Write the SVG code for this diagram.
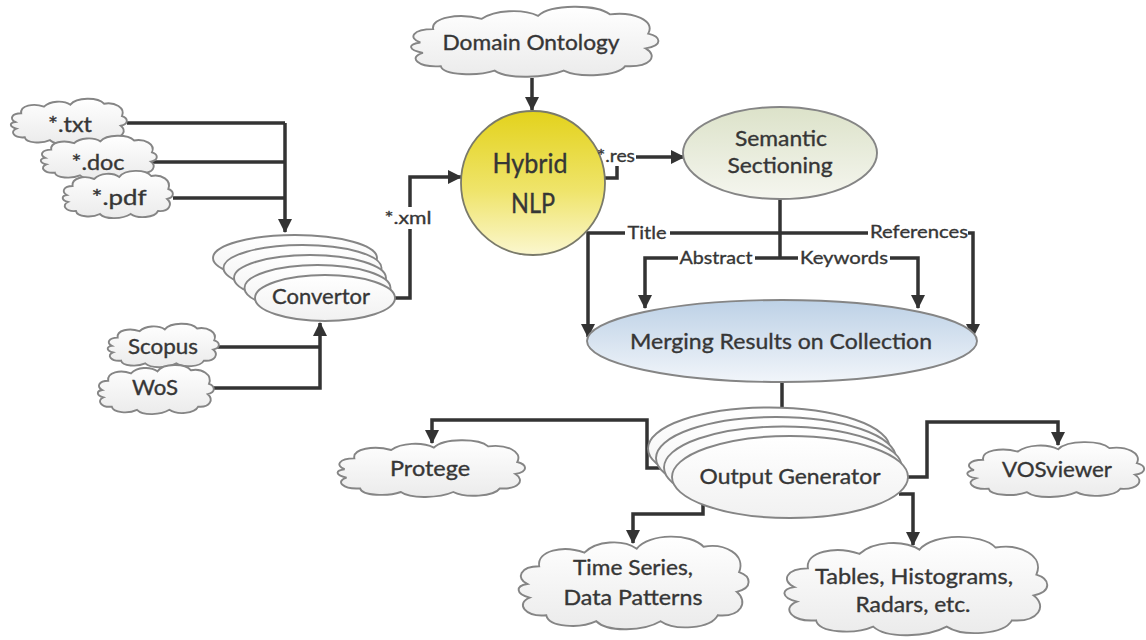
<svg xmlns="http://www.w3.org/2000/svg" xmlns:xlink="http://www.w3.org/1999/xlink" width="1146" height="640" viewBox="0 0 1146 640">
<style>
text{font-family:Lato,"Open Sans","Liberation Sans",sans-serif;fill:#363636;stroke:#363636;stroke-width:0.35;text-anchor:middle;}
.n{font-size:21px;}
.l{font-size:18px;}
.big{font-size:27px;}
.shape{stroke:#858585;stroke-width:1.9;}
.cl{fill:url(#gCloud);stroke:#858585;stroke-width:1.9;}
.c{fill:none;stroke:#333;stroke-width:3.5;}
.a{marker-end:url(#arr);}
</style>
<defs>
<linearGradient id="gCloud" x1="0" y1="0" x2="0" y2="1"><stop offset="0" stop-color="#ffffff"/><stop offset="1" stop-color="#ebebeb"/></linearGradient>
<linearGradient id="gEl" x1="0" y1="0" x2="0" y2="1"><stop offset="0" stop-color="#ffffff"/><stop offset="1" stop-color="#f1f1f1"/></linearGradient>
<linearGradient id="gY" x1="0" y1="0" x2="0" y2="1"><stop offset="0" stop-color="#e3d21c"/><stop offset="0.55" stop-color="#efe46a"/><stop offset="1" stop-color="#fbf7cf"/></linearGradient>
<linearGradient id="gS" x1="0" y1="0" x2="0" y2="1"><stop offset="0" stop-color="#dce2c9"/><stop offset="1" stop-color="#f5f6ef"/></linearGradient>
<linearGradient id="gB" x1="0" y1="0" x2="0" y2="1"><stop offset="0" stop-color="#bdd1e6"/><stop offset="1" stop-color="#f1f5fa"/></linearGradient>
<symbol id="cloud" viewBox="0 0 200 100" preserveAspectRatio="none" overflow="visible">
<path class="cl" vector-effect="non-scaling-stroke" d="M12,52 C2,46 6,34 22,34 C20,18 42,12 60,20 C70,8 92,6 104,16 C114,0 150,0 160,14 C178,10 196,22 190,40 C200,44 202,56 188,60 C198,70 192,86 172,84 C166,98 136,100 124,90 C110,100 80,102 70,90 C56,98 30,96 28,84 C10,86 2,72 14,66 C2,62 2,54 12,52 Z"/>
</symbol>
<marker id="arr" markerUnits="userSpaceOnUse" markerWidth="14" markerHeight="14" viewBox="0 0 14 14" refX="13" refY="7" orient="auto">
<path d="M0,0 L14,7 L0,14 Z" fill="#333"/>
</marker>
</defs>
<rect width="1146" height="640" fill="#fff"/>

<g id="connectors">
<path class="c a" d="M532,78 V110"/>
<path class="c" d="M127,123 H285"/>
<path class="c" d="M147,162 H285"/>
<path class="c" d="M173,198 H285"/>
<path class="c a" d="M285,123 V232"/>
<path class="c" d="M213,347 H320"/>
<path class="c a" d="M205,388 H320 V323"/>
<path class="c" d="M394,298 H410 V229"/>
<path class="c a" d="M410,207 V177 H461"/>
<path class="c" d="M604,178 H617 V166"/>
<path class="c a" d="M636,157 H684"/>
<path class="c" d="M780,199 V258"/>
<path class="c a" d="M625,233 H588 V337"/>
<path class="c" d="M670,233 H868"/>
<path class="c a" d="M968,233 H973 V337"/>
<path class="c a" d="M678,258 H645 V308"/>
<path class="c" d="M755,258 H798"/>
<path class="c a" d="M890,258 H918 V308"/>
<path class="c" d="M782,382 V409"/>
<path class="c a" d="M662,468 H647 V420 H432 V443"/>
<path class="c a" d="M703,505 V514 H633 V543"/>
<path class="c a" d="M899,494 H913 V545"/>
<path class="c a" d="M907,477 H927 V422 H1058 V445"/>
</g>

<g id="domain-ontology"><use xlink:href="#cloud" href="#cloud" x="405" y="4" width="256" height="74"/><text class="n" x="531" y="50" textLength="177" lengthAdjust="spacingAndGlyphs">Domain Ontology</text></g>

<g id="hybrid-nlp"><circle cx="533" cy="183" r="72" fill="url(#gY)" stroke="#7a7a6a" stroke-width="1.8"/>
<text class="big" x="530" y="173" textLength="75" lengthAdjust="spacingAndGlyphs">Hybrid</text>
<text class="big" x="533" y="213" textLength="44" lengthAdjust="spacingAndGlyphs">NLP</text></g>

<g id="semantic-sectioning"><ellipse cx="780" cy="153" rx="97" ry="46" fill="url(#gS)" class="shape"/>
<text class="n" x="781" y="146" textLength="92" lengthAdjust="spacingAndGlyphs">Semantic</text>
<text class="n" x="780" y="173" textLength="105" lengthAdjust="spacingAndGlyphs">Sectioning</text></g>

<g id="merging"><ellipse cx="782" cy="341" rx="195" ry="41" fill="url(#gB)" class="shape"/>
<text class="n" x="781" y="349" textLength="302" lengthAdjust="spacingAndGlyphs" style="font-size:22px">Merging Results on Collection</text></g>

<g id="txt"><use href="#cloud" xlink:href="#cloud" x="8" y="97" width="120" height="48"/><text class="n" x="70" y="132" textLength="44" lengthAdjust="spacingAndGlyphs">*.txt</text></g>
<g id="doc"><use href="#cloud" xlink:href="#cloud" x="38" y="134" width="120" height="46"/><text class="n" x="98" y="170" textLength="53" lengthAdjust="spacingAndGlyphs">*.doc</text></g>
<g id="pdf"><use href="#cloud" xlink:href="#cloud" x="60" y="169" width="114" height="50"/><text class="n" x="119" y="205" textLength="55" lengthAdjust="spacingAndGlyphs">*.pdf</text></g>

<g id="convertor">
<ellipse cx="295" cy="258" rx="82" ry="23" fill="url(#gEl)" class="shape"/>
<ellipse cx="302.5" cy="268" rx="79" ry="23" fill="url(#gEl)" class="shape"/>
<ellipse cx="310" cy="278" rx="76" ry="23" fill="url(#gEl)" class="shape"/>
<ellipse cx="317.5" cy="288" rx="73" ry="23" fill="url(#gEl)" class="shape"/>
<ellipse cx="325" cy="298" rx="70" ry="23" fill="url(#gEl)" class="shape"/>
<text class="n" x="321" y="304" textLength="98" lengthAdjust="spacingAndGlyphs">Convertor</text></g>

<g id="scopus"><use href="#cloud" xlink:href="#cloud" x="105" y="322" width="115" height="46"/><text class="n" x="163" y="354" textLength="70" lengthAdjust="spacingAndGlyphs">Scopus</text></g>
<g id="wos"><use href="#cloud" xlink:href="#cloud" x="95" y="363" width="120" height="52"/><text class="n" x="155" y="395" textLength="46" lengthAdjust="spacingAndGlyphs">WoS</text></g>

<g id="output-generator">
<ellipse cx="769" cy="448.5" rx="121" ry="41" fill="url(#gEl)" class="shape"/>
<ellipse cx="776" cy="458" rx="120" ry="41" fill="url(#gEl)" class="shape"/>
<ellipse cx="783" cy="467.5" rx="119" ry="41" fill="url(#gEl)" class="shape"/>
<ellipse cx="790" cy="477" rx="118" ry="41" fill="url(#gEl)" class="shape"/>
<text class="n" x="790" y="484" textLength="181" lengthAdjust="spacingAndGlyphs">Output Generator</text></g>

<g id="protege"><use href="#cloud" xlink:href="#cloud" x="333" y="438" width="194" height="60"/><text class="n" x="430" y="476" textLength="80" lengthAdjust="spacingAndGlyphs">Protege</text></g>
<g id="vosviewer"><use href="#cloud" xlink:href="#cloud" x="963" y="440" width="183" height="58"/><text class="n" x="1057" y="477" textLength="110" lengthAdjust="spacingAndGlyphs">VOSviewer</text></g>
<g id="time-series"><use href="#cloud" xlink:href="#cloud" x="513" y="533" width="238" height="98"/>
<text class="n" x="633" y="575" textLength="120" lengthAdjust="spacingAndGlyphs">Time Series,</text>
<text class="n" x="633" y="605" textLength="139" lengthAdjust="spacingAndGlyphs">Data Patterns</text></g>
<g id="tables"><use href="#cloud" xlink:href="#cloud" x="778" y="533" width="272" height="104"/>
<text class="n" x="914" y="584" textLength="198" lengthAdjust="spacingAndGlyphs">Tables, Histograms,</text>
<text class="n" x="913" y="612" textLength="115" lengthAdjust="spacingAndGlyphs">Radars, etc.</text></g>

<g id="labels">
<text class="l" x="408" y="224" textLength="47" lengthAdjust="spacingAndGlyphs">*.xml</text>
<text class="l" x="616" y="162" textLength="38" lengthAdjust="spacingAndGlyphs">*.res</text>
<text class="l" x="647" y="239" textLength="39" lengthAdjust="spacingAndGlyphs">Title</text>
<text class="l" x="919" y="238" textLength="98" lengthAdjust="spacingAndGlyphs">References</text>
<text class="l" x="716" y="264" textLength="73" lengthAdjust="spacingAndGlyphs">Abstract</text>
<text class="l" x="844" y="264" textLength="88" lengthAdjust="spacingAndGlyphs">Keywords</text>
</g>
</svg>
